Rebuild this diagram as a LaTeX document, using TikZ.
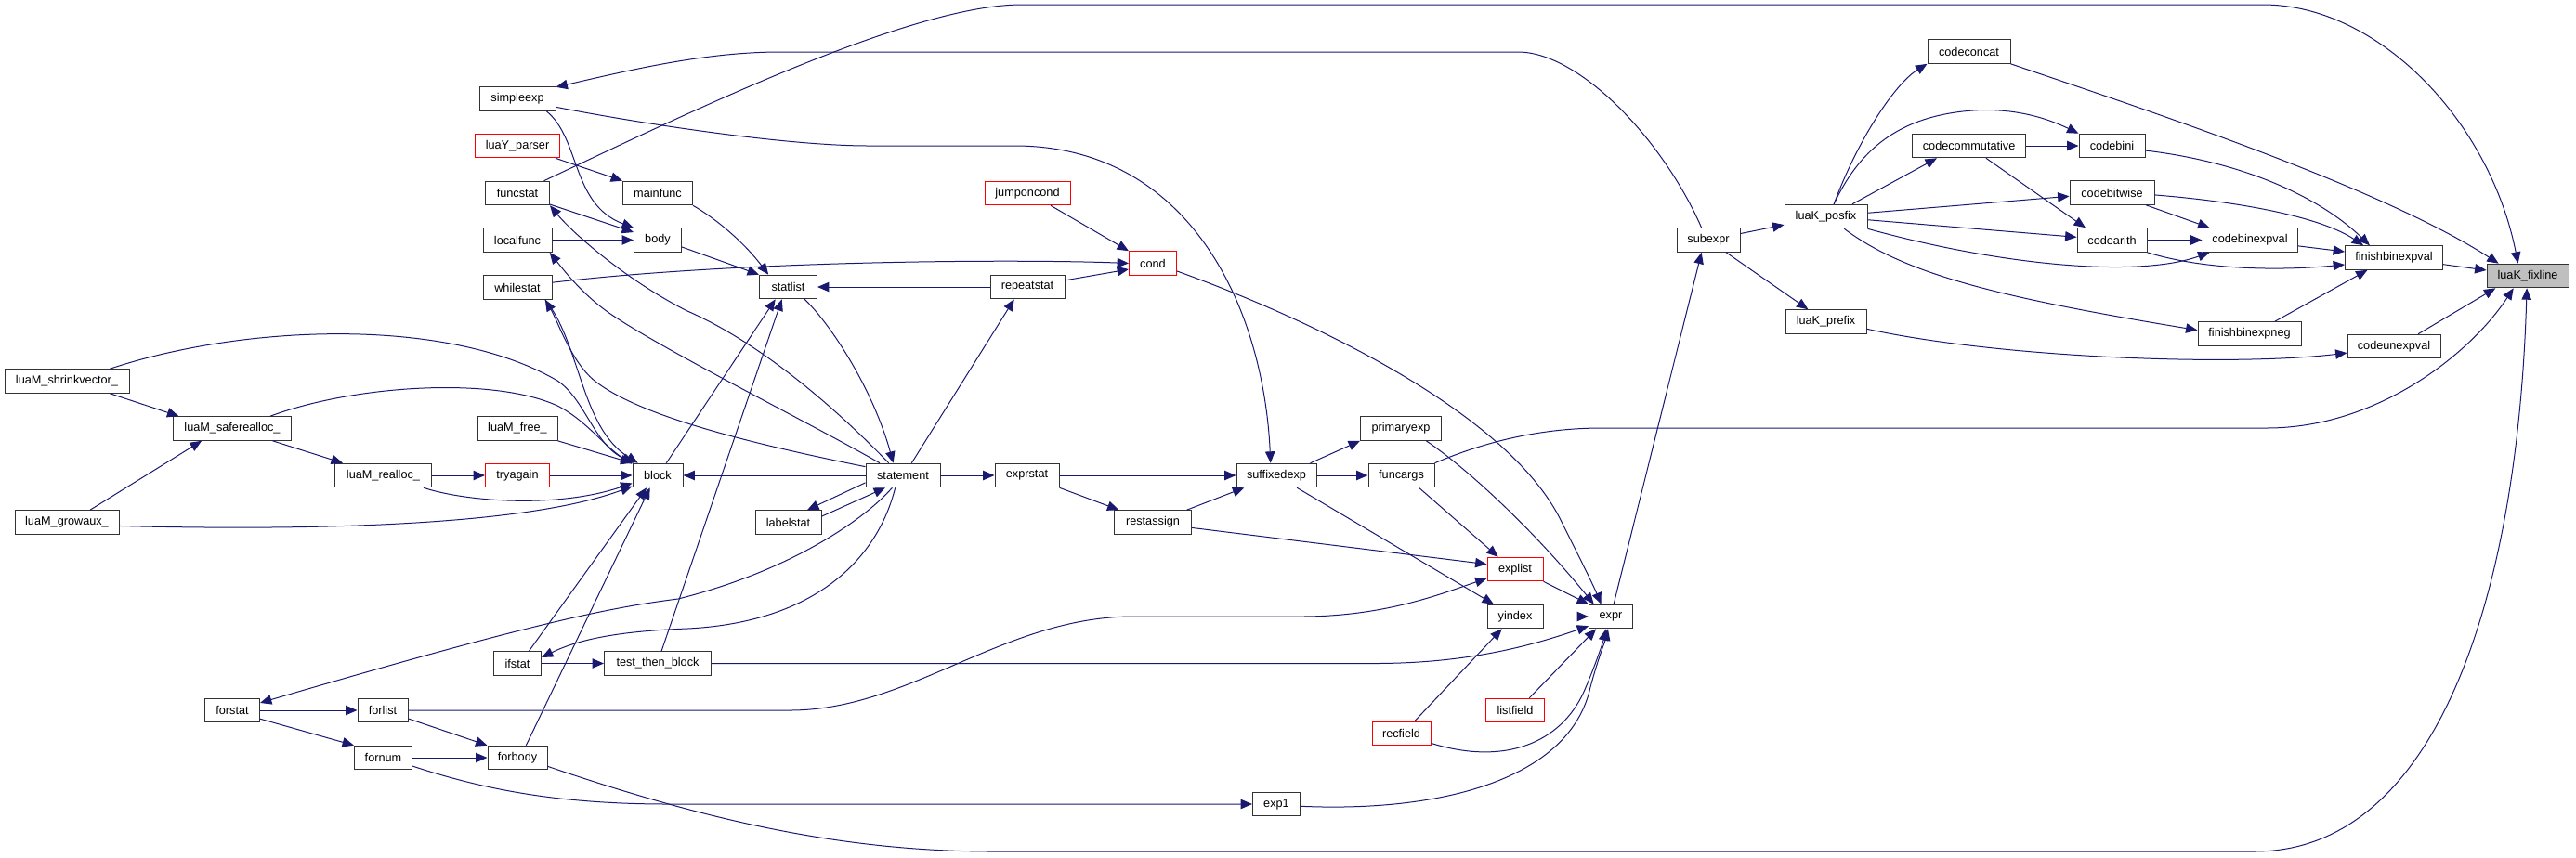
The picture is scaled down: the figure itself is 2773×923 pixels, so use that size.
\documentclass[tikz,border=0pt]{standalone}
\usepackage{fontspec}
\setmainfont{Liberation Sans}
\usetikzlibrary{arrows.meta}
\definecolor{edgec}{RGB}{25,25,112}
\begin{document}
\begin{tikzpicture}[x=0.5pt,y=-0.5pt,
  nb/.style={draw=black!80, line width=0.5pt, fill=white, inner sep=0pt, minimum height=12.8pt, font=\fontsize{6.35pt}{7.5pt}\selectfont},
  rn/.style={nb, draw=red},
  e/.style={draw=edgec, line width=0.5pt, -{Triangle[length=6.2pt,width=5.2pt]}}]
\useasboundingbox (0,0) rectangle (2773,923);
% nodes
\node[nb,minimum width=44pt,fill=black!25] (fix) at (2721,297) {luaK\_fixline};
\node[nb,minimum width=44.5pt] (concat) at (2119.5,55.5) {codeconcat};
\node[nb,minimum width=61pt] (commut) at (2119.6,157) {codecommutative};
\node[nb,minimum width=35.5pt] (bini) at (2273.5,157) {codebini};
\node[nb,minimum width=45.5pt] (bitwise) at (2273.5,207.5) {codebitwise};
\node[nb,minimum width=37.5pt] (arith) at (2273.5,258.5) {codearith};
\node[nb,minimum width=51pt] (binexpval) at (2422,258.5) {codebinexpval};
\node[nb,minimum width=52.5pt] (finval) at (2577,277.5) {finishbinexpval};
\node[nb,minimum width=55.5pt] (finneg) at (2421.5,359.5) {finishbinexpneg};
\node[nb,minimum width=50pt] (unexpval) at (2577,373) {codeunexpval};
\node[nb,minimum width=44.5pt] (posfix) at (1965.5,233) {luaK\_posfix};
\node[nb,minimum width=43.5pt] (prefix) at (1965.5,346.5) {luaK\_prefix};
\node[nb,minimum width=34pt] (subexpr) at (1839,258.5) {subexpr};
\node[nb,minimum width=23.5pt] (expr) at (1734,664) {expr};
\node[rn,minimum width=30pt] (explist) at (1631,613) {explist};
\node[nb,minimum width=30pt] (yindex) at (1631,664) {yindex};
\node[rn,minimum width=31.5pt] (listfield) at (1631,765) {listfield};
\node[rn,minimum width=31.5pt] (recfield) at (1508.5,790) {recfield};
\node[nb,minimum width=43.5pt] (primaryexp) at (1508,461.5) {primaryexp};
\node[nb,minimum width=35.5pt] (funcargs) at (1508.5,512) {funcargs};
\node[nb,minimum width=43pt] (suffixedexp) at (1374,512) {suffixedexp};
\node[nb,minimum width=25.5pt] (exp1) at (1374,866) {exp1};
\node[nb,minimum width=41.5pt] (restassign) at (1241,562.5) {restassign};
\node[nb,minimum width=34.5pt] (exprstat) at (1105.5,512) {exprstat};
\node[nb,minimum width=40pt] (statement) at (972,512) {statement};
\node[nb,minimum width=35.5pt] (labelstat) at (848.5,562.5) {labelstat};
\node[rn,minimum width=25.5pt] (cond) at (1241,283.5) {cond};
\node[rn,minimum width=46pt] (jumponcond) at (1106,208) {jumponcond};
\node[nb,minimum width=40pt] (repeatstat) at (1106,309) {repeatstat};
\node[nb,minimum width=31pt] (statlist) at (848.5,309) {statlist};
\node[nb,minimum width=37.5pt] (mainfunc) at (708,208) {mainfunc};
\node[nb,minimum width=25.5pt] (body) at (708,258.5) {body};
\node[nb,minimum width=27pt] (block) at (708,512) {block};
\node[nb,minimum width=57.5pt] (ttb) at (708,714.5) {test\_then\_block};
\node[nb,minimum width=41pt] (simpleexp) at (557,106.5) {simpleexp};
\node[rn,minimum width=45.5pt] (parser) at (557,157) {luaY\_parser};
\node[nb,minimum width=34.5pt] (funcstat) at (557,208) {funcstat};
\node[nb,minimum width=37pt] (localfunc) at (557,258.5) {localfunc};
\node[nb,minimum width=37pt] (whilestat) at (557,309.5) {whilestat};
\node[nb,minimum width=43pt] (free) at (557,461.5) {luaM\_free\_};
\node[rn,minimum width=34.5pt] (tryagain) at (557,512) {tryagain};
\node[nb,minimum width=25.5pt] (ifstat) at (557,714.5) {ifstat};
\node[nb,minimum width=32pt] (forbody) at (557,816) {forbody};
\node[nb,minimum width=52pt] (realloc) at (412.5,512) {luaM\_realloc\_};
\node[nb,minimum width=27pt] (forlist) at (412,765) {forlist};
\node[nb,minimum width=31pt] (fornum) at (412.5,816) {fornum};
\node[nb,minimum width=63.5pt] (saferealloc) at (250,461.5) {luaM\_saferealloc\_};
\node[nb,minimum width=29.5pt] (forstat) at (250,765) {forstat};
\node[nb,minimum width=67pt] (shrink) at (72,410.5) {luaM\_shrinkvector\_};
\node[nb,minimum width=56pt] (growaux) at (72,562.5) {luaM\_growaux\_};
% edges right part
\draw[e] (finval) -- (fix);
\draw[e] (concat.south east) .. controls (2300,115) and (2560,200) .. (fix.157);
\draw[e] (funcstat.25) .. controls (740,122) and (980,5) .. (1100,5) -- (2436,5) .. controls (2560,5) and (2680,130) .. (fix.128);
\draw[e] (unexpval.27) -- (fix.201);
\draw[e] (funcargs.north east) .. controls (1600,475) and (1660,461) .. (1724,461) -- (2440,461) .. controls (2560,461) and (2660,380) .. (fix.221);
\draw[e] (forbody.-16) .. controls (750,880) and (900,917) .. (1069,917) -- (2427,917) .. controls (2620,917) and (2710,650) .. (fix.-94);
\draw[e] (subexpr) -- (posfix);
\draw[e] (subexpr) -- (prefix);
\draw[e] (posfix.57) .. controls (2000,150) and (2040,90) .. (concat.south west);
\draw[e] (posfix.57) .. controls (2000,165) and (2040,125) .. (2124,119) .. controls (2170,116) and (2205,128) .. (bini.north west);
\draw[e] (posfix.25) -- (commut.201);
\draw[e] (commut) -- (bini);
\draw[e] (commut.-36) -- (arith.155);
\draw[e] (posfix) -- (bitwise);
\draw[e] (posfix) -- (arith);
\draw[e] (posfix.south east) .. controls (2150,285) and (2300,300) .. (binexpval.197);
\draw[e] (posfix.-34) .. controls (2050,295) and (2150,320) .. (finneg.176);
\draw[e] (prefix.-10) .. controls (2150,385) and (2400,395) .. (unexpval.188);
\draw[e] (bitwise.-20) -- (binexpval.163);
\draw[e] (arith) -- (binexpval);
\draw[e] (binexpval) -- (finval);
\draw[e] (arith.south east) .. controls (2370,290) and (2450,292) .. (finval.188);
\draw[e] (bini.-8) .. controls (2420,175) and (2500,215) .. (finval.153);
\draw[e] (bitwise.-3) .. controls (2420,218) and (2500,235) .. (finval.158);
\draw[e] (finneg.26) -- (finval.205);
% middle
\draw[e] (expr.77) -- (subexpr.241);
\draw[e] (subexpr.119) .. controls (1790,150) and (1700,56) .. (1634,56) -- (840,56) .. controls (760,56) and (680,75) .. (simpleexp.17);
\draw[e] (simpleexp.-12) .. controls (700,135) and (850,157) .. (935,157) -- (1092,157) .. controls (1280,157) and (1360,330) .. (suffixedexp.115);
\draw[e] (simpleexp.-23) .. controls (625,150) and (615,220) .. (body.north west);
\draw[e] (funcstat.-19) -- (body.162);
\draw[e] (localfunc) -- (body);
\draw[e] (parser.-18) -- (mainfunc.north west);
\draw[e] (mainfunc.south east) .. controls (770,235) and (800,260) .. (statlist.148);
\draw[e] (body.-16) -- (statlist.north west);
\draw[e] (whilestat.8) .. controls (800,280) and (1100,279) .. (cond.west);
\draw[e] (jumponcond.-28) -- (cond.north west);
\draw[e] (repeatstat.10) -- (cond.194);
\draw[e] (repeatstat) -- (statlist);
\draw[e] (statement.55) -- (repeatstat.223);
\draw[e] (statlist.-37) .. controls (895,350) and (940,420) .. (statement.128);
\draw[e] (statement) -- (block);
\draw[e] (statement) -- (exprstat);
\draw[e] (statement.191) -- (labelstat.33);
\draw[e] (labelstat.10) -- (statement.215);
\draw[e] (statement.238) .. controls (945,600) and (880,670) .. (740,677) .. controls (660,680) and (620,690) .. (ifstat.14);
\draw[e] (statement.229) .. controls (930,560) and (850,615) .. (730,645) .. controls (650,655) and (560,675) .. (forstat.15);
\draw[e] (statement.139) .. controls (900,440) and (820,370) .. (740,335) .. controls (680,305) and (620,255) .. (funcstat.south east);
\draw[e] (statement.152) .. controls (880,460) and (720,380) .. (660,340) .. controls (630,320) and (610,295) .. (localfunc.-21);
\draw[e] (statement.167) .. controls (820,480) and (690,450) .. (640,410) .. controls (615,390) and (600,345) .. (whilestat.-24);
\draw[e] (whilestat.-24) .. controls (625,370) and (625,460) .. (block.148);
% left
\draw[e] (shrink.16) .. controls (260,350) and (480,340) .. (600,410) .. controls (630,430) and (640,480) .. (block.152);
\draw[e] (saferealloc.18) .. controls (380,415) and (530,405) .. (600,437) .. controls (630,452) and (650,480) .. (block.156);
\draw[e] (free.-17) -- (block.north west);
\draw[e] (tryagain) -- (block);
\draw[e] (realloc) -- (tryagain);
\draw[e] (realloc.-17) .. controls (500,540) and (600,548) .. (block.197);
\draw[e] (growaux.-4) .. controls (350,572) and (570,565) .. (block.203);
\draw[e] (shrink.-16) -- (saferealloc.167);
\draw[e] (growaux.28) -- (saferealloc.202);
\draw[e] (saferealloc.-17) -- (realloc.163);
\draw[e] (ifstat) -- (ttb);
\draw[e] (ifstat.47) -- (block.228);
\draw[e] (forbody.55) -- (block.238);
\draw[e] (ttb.73) -- (statlist.243);
\draw[e] (block.55) -- (statlist.224);
\draw[e] (ttb.east) -- (1480,714.5) .. controls (1580,714.5) and (1650,695) .. (expr.203);
\draw[e] (forstat) -- (forlist);
\draw[e] (forstat.-17) -- (fornum.north west);
\draw[e] (forlist.-18) -- (forbody.north west);
\draw[e] (fornum) -- (forbody);
\draw[e] (fornum.-16) .. controls (520,850) and (600,866) .. (720,866) -- (exp1.west);
\draw[e] (forlist.east) -- (850,765) .. controls (980,765) and (1080,664) .. (1220,664) -- (1400,664) .. controls (1490,664) and (1550,640) .. (explist.198);
% expression area
\draw[e] (restassign.-8) -- (explist.170);
\draw[e] (funcargs.-35) -- (explist.144);
\draw[e] (suffixedexp) -- (funcargs);
\draw[e] (suffixedexp.20) -- (primaryexp.south west);
\draw[e] (suffixedexp.-31) -- (yindex.150);
\draw[e] (exprstat) -- (suffixedexp);
\draw[e] (exprstat.south east) -- (restassign.160);
\draw[e] (restassign.20) -- (suffixedexp.201);
\draw[e] (primaryexp.-26) .. controls (1580,505) and (1650,570) .. (expr.144);
\draw[e] (cond.-18) .. controls (1400,340) and (1620,440) .. (1680,560) .. controls (1700,600) and (1715,630) .. (expr.128);
\draw[e] (explist.south east) -- (expr.north west);
\draw[e] (yindex) -- (expr);
\draw[e] (recfield.43) -- (yindex.223);
\draw[e] (recfield.-18) .. controls (1620,825) and (1680,800) .. (1705,745) .. controls (1718,715) and (1726,690) .. (expr.249);
\draw[e] (listfield.41) -- (expr.220);
\draw[e] (exp1.-5) .. controls (1550,875) and (1690,840) .. (1712,740) .. controls (1720,710) and (1728,690) .. (expr.257);
\end{tikzpicture}
\end{document}
